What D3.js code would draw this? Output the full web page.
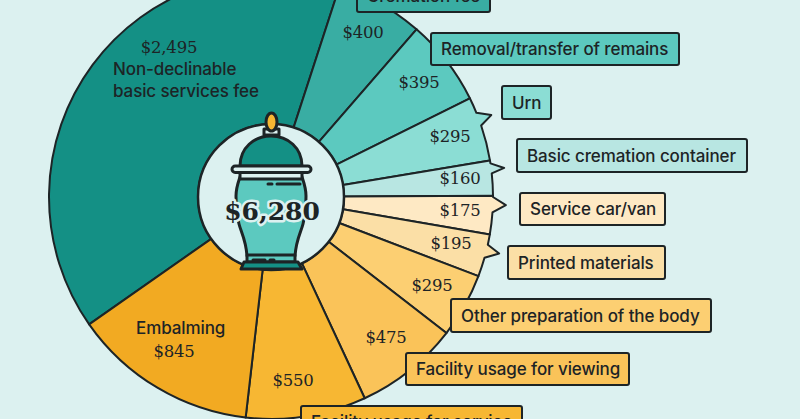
<!DOCTYPE html>
<html>
<head>
<meta charset="utf-8">
<script src="https://cdn.jsdelivr.net/npm/d3@7"></script>
<style>
  html, body { margin: 0; padding: 0; background: #dcf1f0; overflow: hidden; }
  svg { display: block; }
  .lab { font-family: Inter, "Noto Sans", sans-serif; font-size: 17px; font-weight: 500; letter-spacing: -0.1px; fill: #1d2426; }
  .val { font-family: "DejaVu Serif", serif; font-size: 16.5px; letter-spacing: -0.2px; fill: #1d2426; text-anchor: middle; }
</style>
</head>
<body>
<svg id="chart" width="800" height="419"></svg>
<script>
const categories = ["Non-declinable basic services fee", "Cremation fee", "Removal/transfer of remains", "Urn",
    "Basic cremation container", "Service car/van", "Printed materials", "Other preparation of the body",
    "Facility usage for viewing", "Facility usage for service", "Embalming"];
const values = [2495, 400, 395, 295, 160, 175, 195, 295, 475, 550, 845];
const colors = ["#149085", "#39ada3", "#5cc9bf", "#8bddd4", "#b8e6e2", "#fee9c4", "#fbdfa6", "#fccf72", "#fac359", "#f7b733", "#f2aa22"];
const total = "$6,280";

// layout, [x0, y0, x1, y1] of the label boxes
const labelBoxes = [null, [357, -20, 490, 12], [431, 33, 679, 65], [502, 86, 551, 119], [517, 139, 747, 172],
    [520, 193, 665, 225], [508, 246, 665, 279], [451, 299, 711, 332], [406, 353, 629, 385], [301, 406, 522, 438], null];
const valueSpots = [[169, 47], [363, 32], [419, 82], [450, 136], [460, 178], [460, 210], [451, 243], [432, 285], [386, 337], [293, 380], [174, 351]];
// tail on some slices: [start, tip, end] in degrees
const tails = { 3: [67.7, 69.6, 71.2], 4: [81.3, 82.9, 83.9], 5: [90, 92, 94], 6: [102.4, 103.9, 105.9] };

const cx = 271, cy = 197, rInner = 73, rOuter = 222, rTip = 235;
const rad = (a) => a * Math.PI / 180;
const ink = "#1d2426", bg = "#dcf1f0";

const svg = d3.select("#chart");
const g = svg.append("g").attr("transform", "translate(" + cx + "," + cy + ")");

const color = d3.scaleOrdinal().domain(categories).range(colors);
const pie = d3.pie().sort(null).startAngle(rad(-125)).endAngle(rad(235));
const slices = pie(values);

// d3.arc can't do the tails, so build the outline by hand
const slicePath = function (d, i) {
    const p = d3.path();
    const a0 = d.startAngle - Math.PI / 2, a1 = d.endAngle - Math.PI / 2;
    p.moveTo(rInner * Math.cos(a0), rInner * Math.sin(a0));
    p.lineTo(rOuter * Math.cos(a0), rOuter * Math.sin(a0));
    const t = tails[i];
    if (t) {
        const ts = rad(t[0]) - Math.PI / 2, tip = rad(t[1]) - Math.PI / 2, te = rad(t[2]) - Math.PI / 2;
        p.arc(0, 0, rOuter, a0, ts);
        p.lineTo(rTip * Math.cos(tip), rTip * Math.sin(tip));
        p.lineTo(rOuter * Math.cos(te), rOuter * Math.sin(te));
        p.arc(0, 0, rOuter, te, a1);
    } else {
        p.arc(0, 0, rOuter, a0, a1);
    }
    p.lineTo(rInner * Math.cos(a1), rInner * Math.sin(a1));
    p.arc(0, 0, rInner, a1, a0, true);
    p.closePath();
    return p.toString();
};

g.append("g")
    .selectAll("path")
    .data(slices)
    .enter()
    .append("path")
    .attr("d", slicePath)
    .attr("fill", (d, i) => color(categories[i]))
    .attr("stroke", ink)
    .attr("stroke-width", 2)
    .attr("stroke-linejoin", "round");

// centre disc
svg.append("circle")
    .attr("cx", cx).attr("cy", cy).attr("r", rInner)
    .attr("fill", bg).attr("stroke", ink).attr("stroke-width", 2.5);

// urn
const urn = svg.append("g").attr("stroke", ink).attr("stroke-width", 3).attr("stroke-linejoin", "round").attr("stroke-linecap", "round");
urn.append("path").attr("fill", "#5cc9bf")
    .attr("d", "M240,177 C238,183 236,188 236,196 C236,208 237,216 239,224 C241,232 246,240 247,256 L295,256 C296,240 301,232 303,224 C305,216 306,208 306,196 C306,188 304,183 302,177 Z");
urn.append("rect").attr("x", 240).attr("y", 172).attr("width", 62).attr("height", 7).attr("fill", bg);
urn.append("path").attr("fill", "#149085")
    .attr("d", "M240,166 C240,148 254,136 271,136 C288,136 302,148 302,166 Z");
urn.append("rect").attr("x", 232).attr("y", 166).attr("width", 79).attr("height", 6.5).attr("rx", 3.2).attr("fill", bg);
urn.append("rect").attr("x", 264).attr("y", 129).attr("width", 15).attr("height", 6).attr("fill", bg);
urn.append("ellipse").attr("cx", 271.5).attr("cy", 122).attr("rx", 5.5).attr("ry", 9).attr("fill", "#f7b733");
urn.append("rect").attr("x", 247).attr("y", 255).attr("width", 48).attr("height", 7).attr("fill", "#5cc9bf");
urn.append("path").attr("fill", "#149085").attr("d", "M244,262 L298,262 L302,269 L241,269 Z");
urn.append("path").attr("fill", "none").attr("d", "M268,184 L272,184 M277,184 L300,184 M253,260 L265,260 M270,260 L274,260");

svg.append("text")
    .attr("x", 272).attr("y", 220)
    .attr("text-anchor", "middle")
    .attr("font-family", "DejaVu Serif, serif")
    .attr("font-weight", "bold")
    .attr("font-size", 25)
    .attr("fill", ink)
    .attr("stroke", bg)
    .attr("stroke-width", 5)
    .attr("stroke-linejoin", "round")
    .attr("paint-order", "stroke")
    .text(total);

// label boxes
const boxes = svg.append("g")
    .selectAll("g")
    .data(categories.map((c, i) => ({ c: c, i: i, b: labelBoxes[i] })).filter((d) => d.b))
    .enter()
    .append("g");

boxes.append("rect")
    .attr("x", (d) => d.b[0])
    .attr("y", (d) => d.b[1])
    .attr("width", (d) => d.b[2] - d.b[0])
    .attr("height", (d) => d.b[3] - d.b[1])
    .attr("rx", 2)
    .attr("fill", (d) => color(d.c))
    .attr("stroke", ink)
    .attr("stroke-width", 2);

boxes.append("text")
    .attr("class", "lab")
    .attr("x", (d) => d.b[0] + 10)
    .attr("y", (d) => d.b[3] - 10)
    .text((d) => d.c);

// dollar values
svg.append("g")
    .selectAll("text")
    .data(values)
    .enter()
    .append("text")
    .attr("class", "val")
    .attr("x", (d, i) => valueSpots[i][0])
    .attr("y", (d, i) => valueSpots[i][1] + 6)
    .text((d) => d3.format("$,")(d));

// the two labels that sit inside their slice
svg.append("text").attr("class", "lab").attr("x", 113).attr("y", 75).text("Non-declinable");
svg.append("text").attr("class", "lab").attr("x", 113).attr("y", 97).text("basic services fee");
svg.append("text").attr("class", "lab").attr("x", 136).attr("y", 334).text("Embalming");
</script>
</body>
</html>
